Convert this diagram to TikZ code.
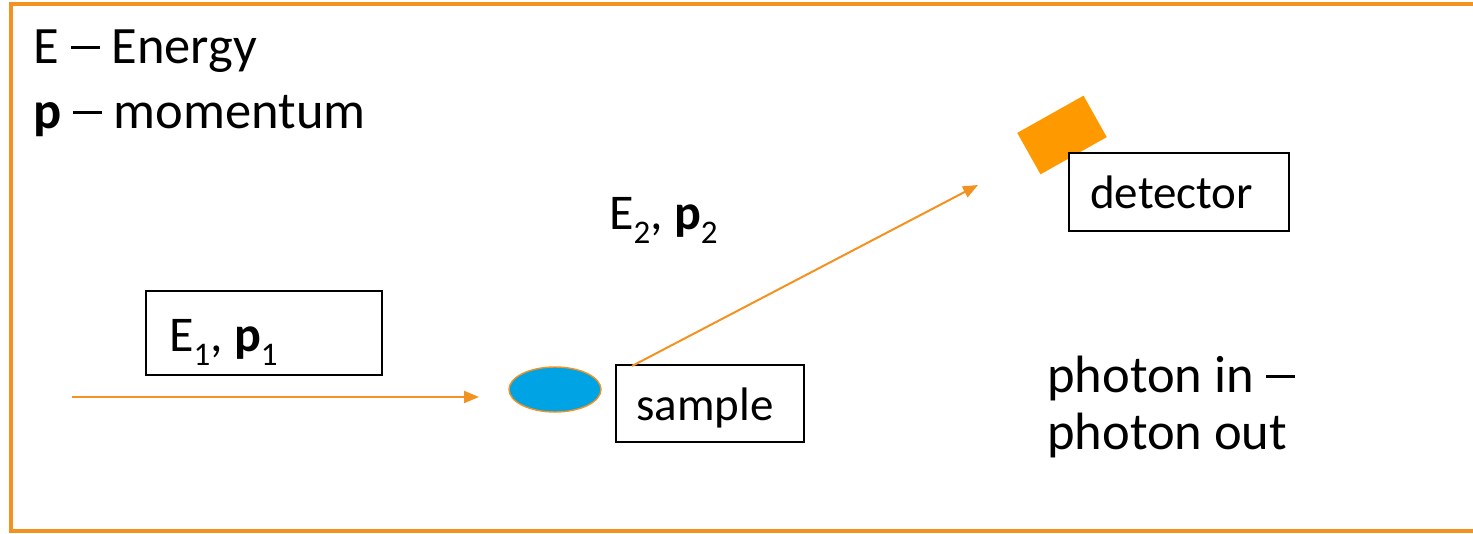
\documentclass[tikz,border=0pt]{standalone}
\usepackage{fontspec}
\setmainfont{Carlito}
\usetikzlibrary{arrows.meta,shapes.geometric,calc}
\definecolor{frameorange}{RGB}{244,146,33}
\definecolor{detorange}{RGB}{255,153,0}
\definecolor{sampleblue}{RGB}{0,164,228}
\tikzset{
  lbl/.style={inner sep=0pt, anchor=base west, font=\fontsize{47}{56}\selectfont},
  biglbl/.style={lbl, font=\fontsize{52.5}{60}\selectfont},
  eplbl/.style={lbl, font=\fontsize{50}{58}\selectfont},
  boxn/.style={draw=black, line width=1.4pt, fill=white, rectangle, inner sep=0pt},
  beam/.style={draw=frameorange, line width=2pt, -{Triangle[length=15pt,width=12pt]}},
}
\newcommand{\sbs}[1]{\raisebox{-0.28em}{\fontsize{33}{38}\selectfont #1}}
\newcommand{\wdash}{\makebox[0.55em][c]{\raisebox{0.27em}{\rule{0.55em}{0.06em}}}}
\begin{document}
\begin{tikzpicture}[x=1pt,y=-1pt]
\useasboundingbox (0,0) rectangle (1473,533);
% frame
\draw[frameorange, line width=3.5pt] (1480,4) -- (11,4) -- (11,531) -- (1480,531);
% legend
\node[biglbl] (legE) at (33,63) {E \wdash\ Energy};
\node[biglbl] (legP) at (33,128) {\textbf{p} \wdash\ momentum};
% incoming label box
\node[boxn, minimum width=236pt, minimum height=84pt] (e1box) at (264,333) {};
\node[eplbl] (e1) at (169,351) {E\sbs{1}, \textbf{p}\sbs{1}};
% sample
\node[draw=frameorange, fill=sampleblue, line width=1.4pt, ellipse, minimum width=92pt, minimum height=45pt, inner sep=0pt] (samp) at (555,389.5) {};
\node[boxn, minimum width=188pt, minimum height=77pt] (sbox) at (710,403.5) {};
\node[lbl] (stext) at (636,420) {sample};
% detector
\node[fill=detorange, rectangle, minimum width=76pt, minimum height=47.5pt, inner sep=0pt, rotate=29.3] (det) at (1062,135) {};
\node[boxn, minimum width=220pt, minimum height=78pt] (dbox) at (1179,192) {};
\node[lbl] (dtext) at (1090,208) {detector};
% outgoing label
\node[eplbl] (e2) at (609,229) {E\sbs{2}, \textbf{p}\sbs{2}};
% note
\node[biglbl] (n1) at (1047,392) {photon in \wdash};
\node[biglbl] (n2) at (1047,449) {photon out};
% beams
\coordinate (inS) at (72,397);
\coordinate (inE) at (479,397);
\coordinate (outS) at (632,366);
\coordinate (outE) at (978,185);
\draw[beam] (inS) -- (inE);
\draw[beam] (outS) -- (outE);
\end{tikzpicture}
\end{document}
